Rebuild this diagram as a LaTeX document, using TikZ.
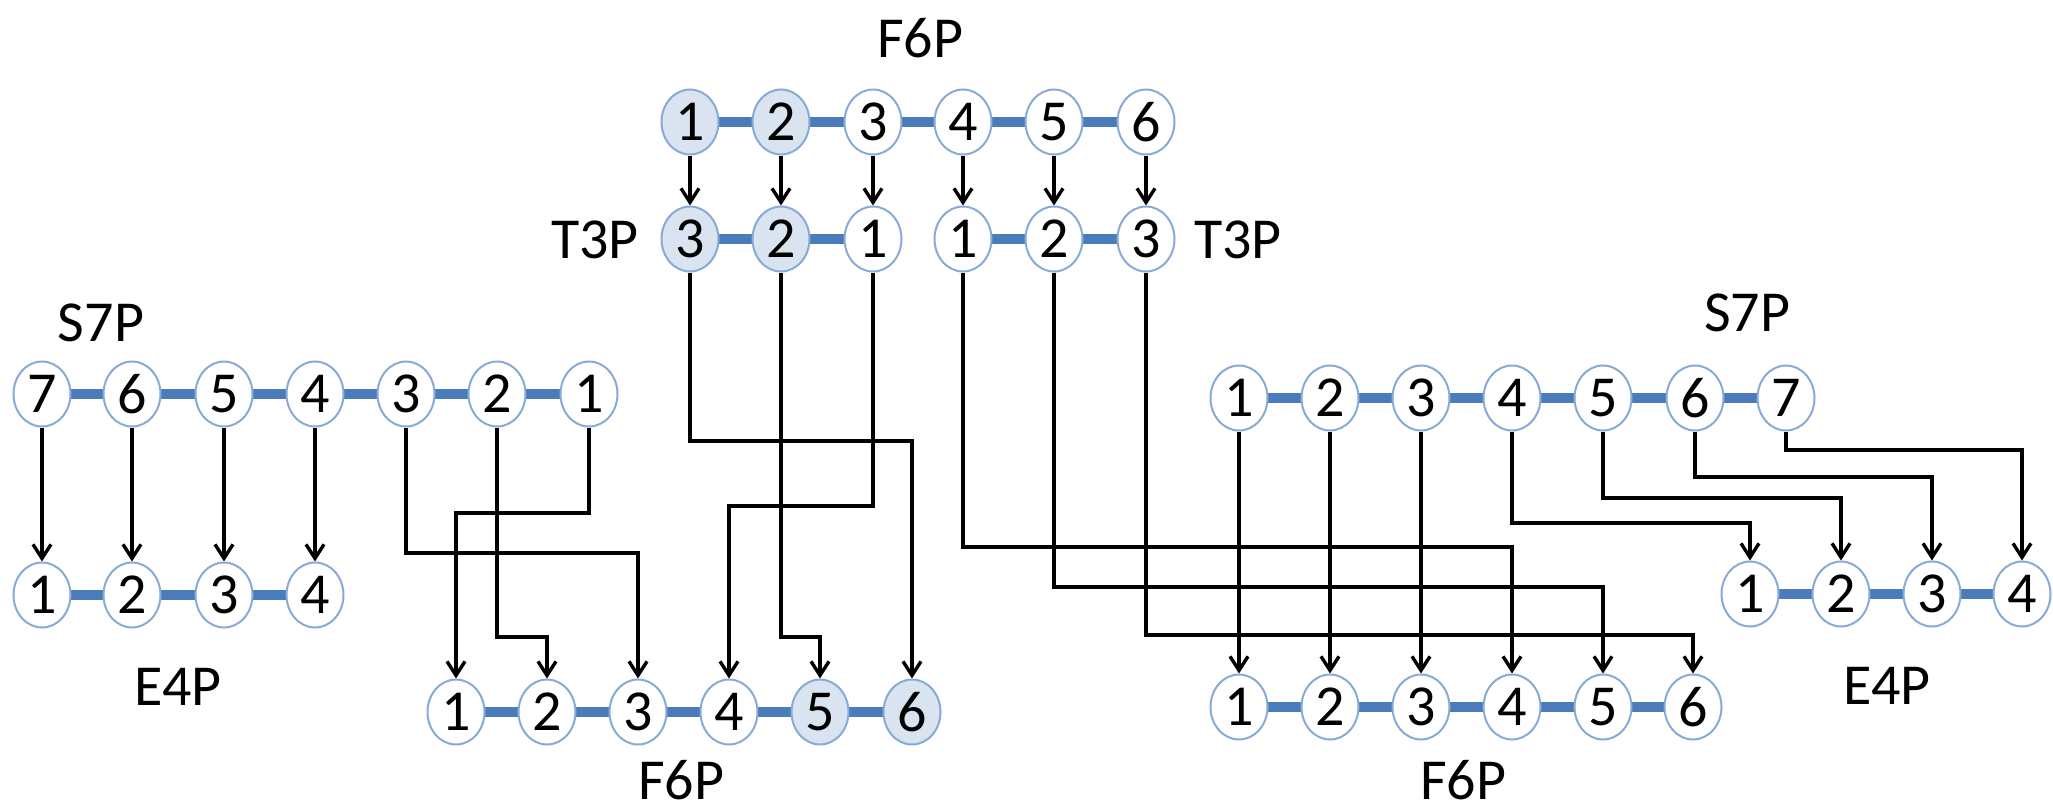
\documentclass[tikz,border=0pt]{standalone}
\usepackage{fontspec}
\setmainfont{Carlito}
\usetikzlibrary{shapes.geometric,arrows.meta,backgrounds}
\definecolor{barblue}{RGB}{74,124,188}
\definecolor{ringblue}{RGB}{135,170,214}
\definecolor{shadeblue}{RGB}{218,228,241}
\tikzset{
  atom/.style={ellipse, draw=ringblue, line width=1pt, fill=white,
    minimum width=28.5pt, minimum height=32.5pt, inner sep=0pt,
    font=\fontsize{29}{32}\selectfont},
  hl/.style={atom, fill=shadeblue},
  bond/.style={draw=barblue, line width=4.8pt},
  arr/.style={draw=black, line width=1.7pt, -{Straight Barb[length=7pt,width=9pt]}},
  lbl/.style={font=\fontsize{29}{32}\selectfont, inner sep=0pt},
}
\begin{document}
\begin{tikzpicture}[x=0.5pt,y=-0.5pt]
\useasboundingbox (0,0) rectangle (2053,810);

% top F6P
\node[hl]   (t1) at (690,122) {1};
\node[hl]   (t2) at (781,122) {2};
\node[atom] (t3) at (873,122) {3};
\node[atom] (t4) at (963,122) {4};
\node[atom] (t5) at (1054,122) {5};
\node[atom] (t6) at (1146,122) {6};
% T3P left and right
\node[hl]   (ul1) at (690,239) {3};
\node[hl]   (ul2) at (781,239) {2};
\node[atom] (ul3) at (873,239) {1};
\node[atom] (ur1) at (963,239) {1};
\node[atom] (ur2) at (1054,239) {2};
\node[atom] (ur3) at (1146,239) {3};
% left S7P
\node[atom] (ls1) at (42,394) {7};
\node[atom] (ls2) at (132,394) {6};
\node[atom] (ls3) at (224,394) {5};
\node[atom] (ls4) at (315,394) {4};
\node[atom] (ls5) at (406,394) {3};
\node[atom] (ls6) at (497,394) {2};
\node[atom] (ls7) at (589,394) {1};
% left E4P
\node[atom] (le1) at (42,595) {1};
\node[atom] (le2) at (132,595) {2};
\node[atom] (le3) at (224,595) {3};
\node[atom] (le4) at (315,595) {4};
% middle F6P
\node[atom] (mf1) at (456,712) {1};
\node[atom] (mf2) at (547,712) {2};
\node[atom] (mf3) at (638,712) {3};
\node[atom] (mf4) at (729,712) {4};
\node[hl]   (mf5) at (820,712) {5};
\node[hl]   (mf6) at (912,712) {6};
% right S7P
\node[atom] (rs1) at (1239,398) {1};
\node[atom] (rs2) at (1330,398) {2};
\node[atom] (rs3) at (1421,398) {3};
\node[atom] (rs4) at (1512,398) {4};
\node[atom] (rs5) at (1603,398) {5};
\node[atom] (rs6) at (1695,398) {6};
\node[atom] (rs7) at (1786,398) {7};
% right F6P
\node[atom] (rf1) at (1239,707) {1};
\node[atom] (rf2) at (1330,707) {2};
\node[atom] (rf3) at (1421,707) {3};
\node[atom] (rf4) at (1512,707) {4};
\node[atom] (rf5) at (1603,707) {5};
\node[atom] (rf6) at (1693,707) {6};
% right E4P
\node[atom] (re1) at (1750,594) {1};
\node[atom] (re2) at (1841,594) {2};
\node[atom] (re3) at (1932,594) {3};
\node[atom] (re4) at (2022,594) {4};

% labels
\node[lbl] (lab-top)  at (920,38)   {F6P};
\node[lbl] (lab-t3l)  at (595,240)  {T3P};
\node[lbl] (lab-t3r)  at (1238,240) {T3P};
\node[lbl] (lab-s7l)  at (101,323)  {S7P};
\node[lbl] (lab-s7r)  at (1747,313) {S7P};
\node[lbl] (lab-e4l)  at (178,687)  {E4P};
\node[lbl] (lab-e4r)  at (1887,686) {E4P};
\node[lbl] (lab-f6m)  at (681,780)  {F6P};
\node[lbl] (lab-f6r)  at (1463,780) {F6P};

% bonds
\begin{scope}[on background layer]
  \foreach \a/\b in {t1/t2,t2/t3,t3/t4,t4/t5,t5/t6,
                     ul1/ul2,ul2/ul3,ur1/ur2,ur2/ur3,
                     ls1/ls2,ls2/ls3,ls3/ls4,ls4/ls5,ls5/ls6,ls6/ls7,
                     le1/le2,le2/le3,le3/le4,
                     mf1/mf2,mf2/mf3,mf3/mf4,mf4/mf5,mf5/mf6,
                     rs1/rs2,rs2/rs3,rs3/rs4,rs4/rs5,rs5/rs6,rs6/rs7,
                     rf1/rf2,rf2/rf3,rf3/rf4,rf4/rf5,rf5/rf6,
                     re1/re2,re2/re3,re3/re4}
    \draw[bond] (\a.center) -- (\b.center);
\end{scope}

% straight arrows
\foreach \a/\b in {t1/ul1,t2/ul2,t3/ul3,t4/ur1,t5/ur2,t6/ur3,
                   ls1/le1,ls2/le2,ls3/le3,ls4/le4,
                   rs1/rf1,rs2/rf2,rs3/rf3}
  \draw[arr] (\a) -- (\b);

% routed arrows, left part
\draw[arr] (ls5.south) -- (ls5.south |- 0,553) -| (mf3.north);
\draw[arr] (ls6.south) -- (ls6.south |- 0,637) -| (mf2.north);
\draw[arr] (ls7.south) -- (ls7.south |- 0,513) -| (mf1.north);
\draw[arr] (ul1.south) -- (ul1.south |- 0,441) -| (mf6.north);
\draw[arr] (ul2.south) -- (ul2.south |- 0,637) -| (mf5.north);
\draw[arr] (ul3.south) -- (ul3.south |- 0,506) -| (mf4.north);
% routed arrows, right part
\draw[arr] (ur1.south) -- (ur1.south |- 0,547) -| (rf4.north);
\draw[arr] (ur2.south) -- (ur2.south |- 0,587) -| (rf5.north);
\draw[arr] (ur3.south) -- (ur3.south |- 0,635) -| (rf6.north);
\draw[arr] (rs4.south) -- (rs4.south |- 0,523) -| (re1.north);
\draw[arr] (rs5.south) -- (rs5.south |- 0,498) -| (re2.north);
\draw[arr] (rs6.south) -- (rs6.south |- 0,477) -| (re3.north);
\draw[arr] (rs7.south) -- (rs7.south |- 0,450) -| (re4.north);
\end{tikzpicture}
\end{document}
